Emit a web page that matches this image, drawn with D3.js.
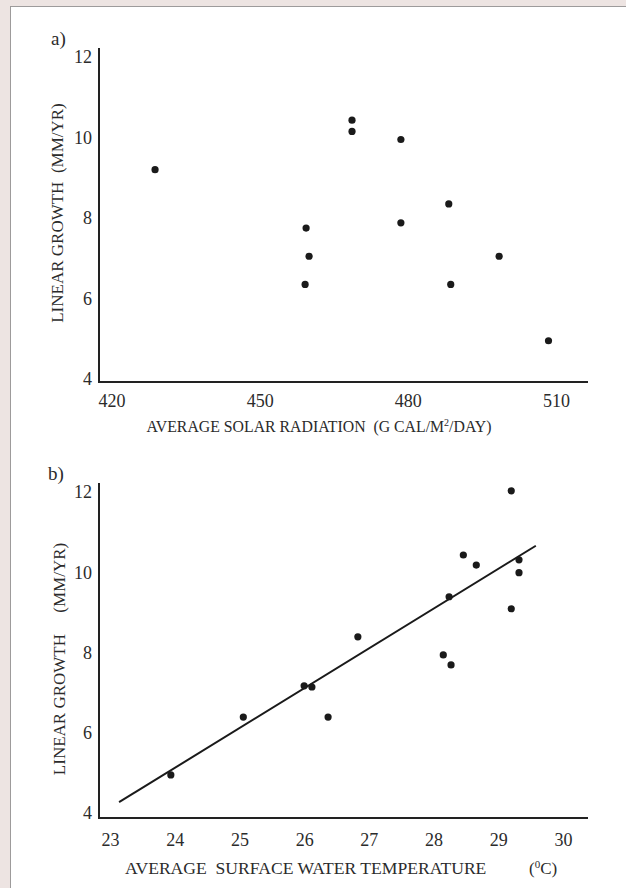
<!DOCTYPE html>
<html>
<head>
<meta charset="utf-8">
<script src="https://cdn.jsdelivr.net/npm/d3@7"></script>
<style>
  body { margin: 0; background: #ede4e2; }
  svg text { font-family: "Liberation Serif", "Times New Roman", serif; fill: #2b2b2b; }
</style>
</head>
<body>
<div id="container"></div>
<script>
// panel a) solar radiation vs growth
var solarX = [428.8, 459.4, 460.0, 459.2, 468.7, 468.7, 478.6, 478.6, 488.3, 488.7, 498.5, 508.5]
var solarY = [9.2, 7.75, 7.05, 6.35, 10.43, 10.15, 9.95, 7.88, 8.35, 6.35, 7.05, 4.95]
var solarTicks = [420, 450, 480, 510]

// panel b) water temperature vs growth
var tempX = [23.94, 25.06, 26.0, 26.12, 26.37, 26.83, 28.15, 28.27, 28.24, 28.46, 28.66, 29.2, 29.2, 29.32, 29.32]
var tempY = [4.95, 6.39, 7.17, 7.14, 6.39, 8.39, 7.94, 7.69, 9.39, 10.43, 10.18, 12.03, 9.09, 10.31, 9.99]
var tempTicks = [23, 24, 25, 26, 27, 28, 29, 30]
var fitX = [23.14, 29.58]
var fitY = [4.27, 10.66]

var growthTicks = [4, 6, 8, 10, 12]

var width = 626
var height = 888
var serif = "'Liberation Serif', 'Times New Roman', serif"

var svg = d3.select("#container")
  .append("svg")
  .attr("width", width)
  .attr("height", height)

// white panel with dotted frame
svg.append("rect")
  .attr("x", 10.5).attr("y", 6.5)
  .attr("width", width).attr("height", height)
  .attr("fill", "#fff")
  .attr("stroke", "#444")
  .attr("stroke-dasharray", "1,1")

function drawPanel(opt) {
  var g = svg.append("g")

  var x = d3.scaleLinear().domain(opt.xDomain).range(opt.xRange)
  var y = d3.scaleLinear().domain([4, 12]).range(opt.yRange)

  // axis lines (no tick marks)
  g.append("line")
    .attr("x1", 99).attr("x2", 99)
    .attr("y1", opt.yRange[1] - 9).attr("y2", opt.axisY)
    .attr("stroke", "#222").attr("stroke-width", 2)
  g.append("line")
    .attr("x1", 98).attr("x2", 588)
    .attr("y1", opt.axisY).attr("y2", opt.axisY)
    .attr("stroke", "#222").attr("stroke-width", 2)

  var yAxis = g.append("g")
    .attr("transform", "translate(99,0)")
    .call(d3.axisLeft(y).tickValues(growthTicks).tickFormat(d3.format("d")).tickSize(0).tickPadding(7))
    .attr("font-family", serif)
    .attr("font-size", 18)
  yAxis.select(".domain").remove()

  var xAxis = g.append("g")
    .attr("transform", "translate(0," + opt.axisY + ")")
    .call(d3.axisBottom(x).tickValues(opt.ticks).tickFormat(d3.format("d")).tickSize(0).tickPadding(opt.xPad))
    .attr("font-family", serif)
    .attr("font-size", 18)
  xAxis.select(".domain").remove()

  g.selectAll(".tick text").attr("fill", "#2b2b2b")

  if (opt.fitX) {
    var line = d3.line()
      .x(function(d) { return x(d[0]) })
      .y(function(d) { return y(d[1]) })
    g.append("path")
      .datum(d3.zip(opt.fitX, opt.fitY))
      .attr("d", line)
      .attr("fill", "none")
      .attr("stroke", "#1a1a1a")
      .attr("stroke-width", 2)
  }

  g.selectAll("circle")
    .data(d3.zip(opt.xs, opt.ys))
    .enter()
    .append("circle")
    .attr("cx", function(d) { return x(d[0]) })
    .attr("cy", function(d) { return y(d[1]) })
    .attr("r", 3.6)
    .attr("fill", "#1a1a1a")

  // panel letter
  g.append("text")
    .attr("x", opt.letterX).attr("y", opt.letterY)
    .style("font-size", "19px")
    .text(opt.letter)

  // y title
  g.append("text")
    .attr("transform", "translate(" + opt.yTitleX + "," + opt.yTitleY + ") rotate(-90)")
    .attr("text-anchor", "middle")
    .style("font-size", "17px")
    .style("white-space", "pre")
    .text(opt.yTitle)

  return g
}

var a = drawPanel({
  xDomain: [420, 510], xRange: [111.6, 555.9],
  yRange: [379, 57], axisY: 382, ticks: solarTicks, xPad: 12,
  xs: solarX, ys: solarY,
  letter: "a)", letterX: 51, letterY: 45,
  yTitle: "LINEAR GROWTH  (MM/YR)", yTitleX: 63, yTitleY: 213
})

a.append("text")
  .attr("x", 319).attr("y", 432)
  .attr("text-anchor", "middle")
  .style("font-size", "15.8px")
  .style("white-space", "pre")
  .html("AVERAGE SOLAR RADIATION  (G CAL/M<tspan dy='-6' font-size='10px'>2</tspan><tspan dy='6'>/DAY)</tspan>")

var b = drawPanel({
  xDomain: [23, 30], xRange: [110, 563],
  yRange: [813, 492], axisY: 818, ticks: tempTicks, xPad: 15,
  xs: tempX, ys: tempY, fitX: fitX, fitY: fitY,
  letter: "b)", letterX: 48, letterY: 480,
  yTitle: "LINEAR GROWTH     (MM/YR)", yTitleX: 65, yTitleY: 659
})

b.append("text")
  .attr("x", 125).attr("y", 874)
  .style("font-size", "17.6px")
  .style("white-space", "pre")
  .text("AVERAGE  SURFACE WATER TEMPERATURE")

b.append("text")
  .attr("x", 529).attr("y", 874)
  .style("font-size", "17px")
  .html("(<tspan dy='-6' font-size='11px'>0</tspan><tspan dy='6'>C)</tspan>")
</script>
</body>
</html>
